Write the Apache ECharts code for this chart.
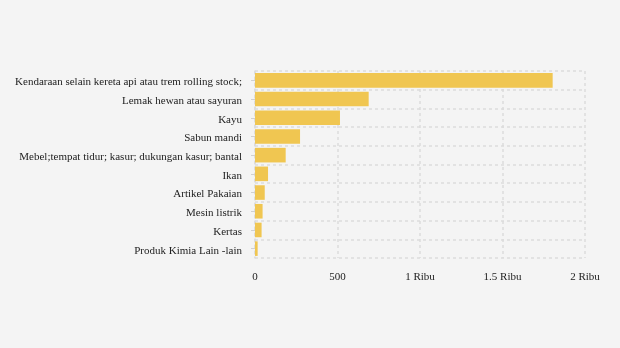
<!DOCTYPE html>
<html>
<head>
<meta charset="utf-8">
<script src="https://cdn.jsdelivr.net/npm/echarts@6/dist/echarts.min.js"></script>
<style>
html,body{margin:0;padding:0;background:#f4f4f4;}
#chart{width:620px;height:348px;}
</style>
</head>
<body>
<div id="chart"></div>
<script>
// Product categories, top to bottom
const categories = [
  "Kendaraan selain kereta api atau trem rolling stock;",
  "Lemak hewan atau sayuran",
  "Kayu",
  "Sabun mandi",
  "Mebel;tempat tidur; kasur; dukungan kasur; bantal",
  "Ikan",
  "Artikel Pakaian",
  "Mesin listrik",
  "Kertas",
  "Produk Kimia Lain -lain"
];
const values = [1804, 689, 515, 273, 186, 79, 59, 46, 40, 16];
const tickLabels = {0: "0", 500: "500", 1000: "1 Ribu", 1500: "1.5 Ribu", 2000: "2 Ribu"};

const chart = echarts.init(document.getElementById("chart"));
const font = "'Liberation Serif', 'DejaVu Serif', serif";
const dashed = {show: true, lineStyle: {color: "#dcdcdc", type: [3, 3], width: 1.5}};

chart.setOption({
  backgroundColor: "#f4f4f4",
  animation: false,
  grid: {left: 255, right: 35, top: 71, bottom: 90, containLabel: false},
  xAxis: {
    type: "value",
    min: 0, max: 2000, interval: 500,
    axisLine: {show: false},
    axisTick: {show: false},
    splitLine: dashed,
    axisLabel: {
      color: "#222", fontFamily: font, fontSize: 11, margin: 14,
      formatter: v => tickLabels[v] !== undefined ? tickLabels[v] : String(v)
    }
  },
  yAxis: {
    type: "category",
    inverse: true,
    data: categories,
    axisLine: {show: true, lineStyle: {color: "#dcdcdc", type: [3, 3], width: 1.5}},
    axisTick: {show: true, alignWithLabel: true, length: 4, lineStyle: {color: "#d0d0d0"}},
    splitLine: dashed,
    axisLabel: {
      margin: 13,
      formatter: v => "{t|" + v + "}",
      rich: {t: {color: "#222", fontFamily: font, fontSize: 11, padding: [4, 0, 0, 0]}}
    }
  },
  series: [{
    type: "bar",
    data: values,
    barCategoryGap: "22%",
    itemStyle: {color: "#f0c651"}
  }]
});
</script>
</body>
</html>
